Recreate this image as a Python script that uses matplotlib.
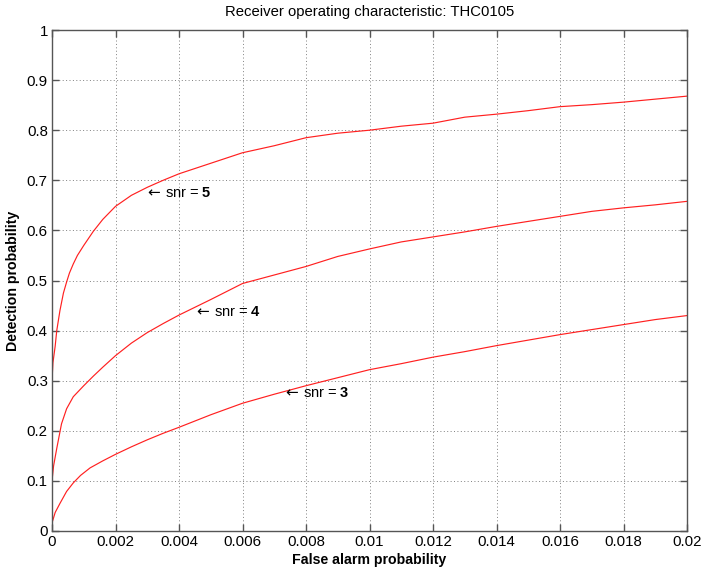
import matplotlib
matplotlib.use("Agg")
import matplotlib.pyplot as plt

plt.rcParams['font.family'] = ['Liberation Sans', 'DejaVu Sans']
plt.rcParams['mathtext.fontset'] = 'custom'
plt.rcParams['mathtext.rm'] = 'Liberation Sans'
plt.rcParams['mathtext.bf'] = 'Liberation Sans:bold'

# ---- data ----
snr5_x = [0, 0, 0.00003, 0.0001, 0.00015, 0.00025, 0.00036, 0.00046, 0.00055, 0.00067,
          0.0008, 0.001, 0.0013, 0.0016, 0.002, 0.0025, 0.003, 0.0035, 0.004, 0.005,
          0.006, 0.007, 0.008, 0.009, 0.01, 0.011, 0.012, 0.013, 0.014, 0.015, 0.016,
          0.017, 0.018, 0.019, 0.02]
snr5_y = [0.255, 0.30, 0.336, 0.369, 0.40, 0.44, 0.475, 0.497, 0.515, 0.533,
          0.550, 0.570, 0.598, 0.622, 0.648, 0.670, 0.686, 0.700, 0.713, 0.734,
          0.755, 0.769, 0.785, 0.794, 0.80, 0.808, 0.814, 0.826, 0.832, 0.839, 0.847,
          0.851, 0.856, 0.862, 0.868]

snr4_x = [0, 0, 0.00005, 0.00015, 0.0003, 0.00046, 0.00067, 0.001, 0.0013, 0.0016,
          0.002, 0.0025, 0.003, 0.0035, 0.004, 0.005, 0.006, 0.007, 0.008, 0.009, 0.01,
          0.011, 0.012, 0.013, 0.014, 0.015, 0.016, 0.017, 0.018, 0.019, 0.02]
snr4_y = [0.075, 0.10, 0.13, 0.165, 0.214, 0.244, 0.268, 0.290, 0.309, 0.327,
          0.350, 0.375, 0.396, 0.414, 0.431, 0.462, 0.494, 0.511, 0.528, 0.548, 0.563,
          0.577, 0.587, 0.597, 0.608, 0.618, 0.628, 0.638, 0.645, 0.651, 0.658]

snr3_x = [0, 0.0001, 0.00025, 0.00046, 0.00067, 0.0009, 0.0012, 0.0016, 0.002, 0.0025,
          0.003, 0.0035, 0.004, 0.005, 0.006, 0.007, 0.008, 0.009, 0.01, 0.011, 0.012,
          0.013, 0.014, 0.015, 0.016, 0.017, 0.018, 0.019, 0.02]
snr3_y = [0.016, 0.037, 0.055, 0.079, 0.096, 0.111, 0.126, 0.140, 0.153, 0.168,
          0.182, 0.195, 0.207, 0.232, 0.255, 0.273, 0.29, 0.306, 0.322, 0.334, 0.347,
          0.358, 0.37, 0.381, 0.392, 0.402, 0.412, 0.422, 0.43]

label_nums = ['5', '4', '3']
label_x = [0.003, 0.00454, 0.00734]
label_y = [0.675, 0.438, 0.276]

x_ticks = [0, 0.002, 0.004, 0.006, 0.008, 0.01, 0.012, 0.014, 0.016, 0.018, 0.02]
x_ticklabels = ['0', '0.002', '0.004', '0.006', '0.008', '0.01', '0.012', '0.014',
                '0.016', '0.018', '0.02']
y_ticks = [0, 0.1, 0.2, 0.3, 0.4, 0.5, 0.6, 0.7, 0.8, 0.9, 1]
y_ticklabels = ['0', '0.1', '0.2', '0.3', '0.4', '0.5', '0.6', '0.7', '0.8', '0.9', '1']

# ---- figure ----
fig = plt.figure(figsize=(7.03, 5.69), dpi=100)
ax = fig.add_axes([52/703, 38/569, 635/703, 501/569])

for xs, ys in [(snr5_x, snr5_y), (snr4_x, snr4_y), (snr3_x, snr3_y)]:
    ax.plot(xs, ys, color='#ff2020', lw=0.85)

for n, lx, ly in zip(label_nums, label_x, label_y):
    ax.text(lx, ly, '\u2190', ha='left', va='center', fontsize=11,
            family=['DejaVu Sans'], color='black')
    ax.annotate('snr = $\\mathbf{' + n + '}$', xy=(lx, ly), xytext=(18, 0),
                textcoords='offset pixels', ha='left', va='center',
                fontsize=10.5, color='black')

ax.set_xlim(0, 0.02)
ax.set_ylim(0, 1)
ax.set_xticks(x_ticks)
ax.set_xticklabels(x_ticklabels)
ax.set_yticks(y_ticks)
ax.set_yticklabels(y_ticklabels)
ax.tick_params(direction='in', length=5, width=1, color='#555555', labelsize=10.8,
               top=True, right=True, pad=3)
for s in ax.spines.values():
    s.set_color('#555555')
    s.set_linewidth(1)
ax.grid(True, color='#808080', linestyle=(0, (1, 2.5)), linewidth=0.7)
ax.set_axisbelow(True)

ax.set_title('Receiver operating characteristic: THC0105', fontsize=10.7, pad=10)
ax.set_xlabel('False alarm probability', fontsize=10.2, fontweight='bold', labelpad=3)
ax.set_ylabel('Detection probability', fontsize=10.2, fontweight='bold', labelpad=5)

fig.savefig('out.png', dpi=100, facecolor='white')
